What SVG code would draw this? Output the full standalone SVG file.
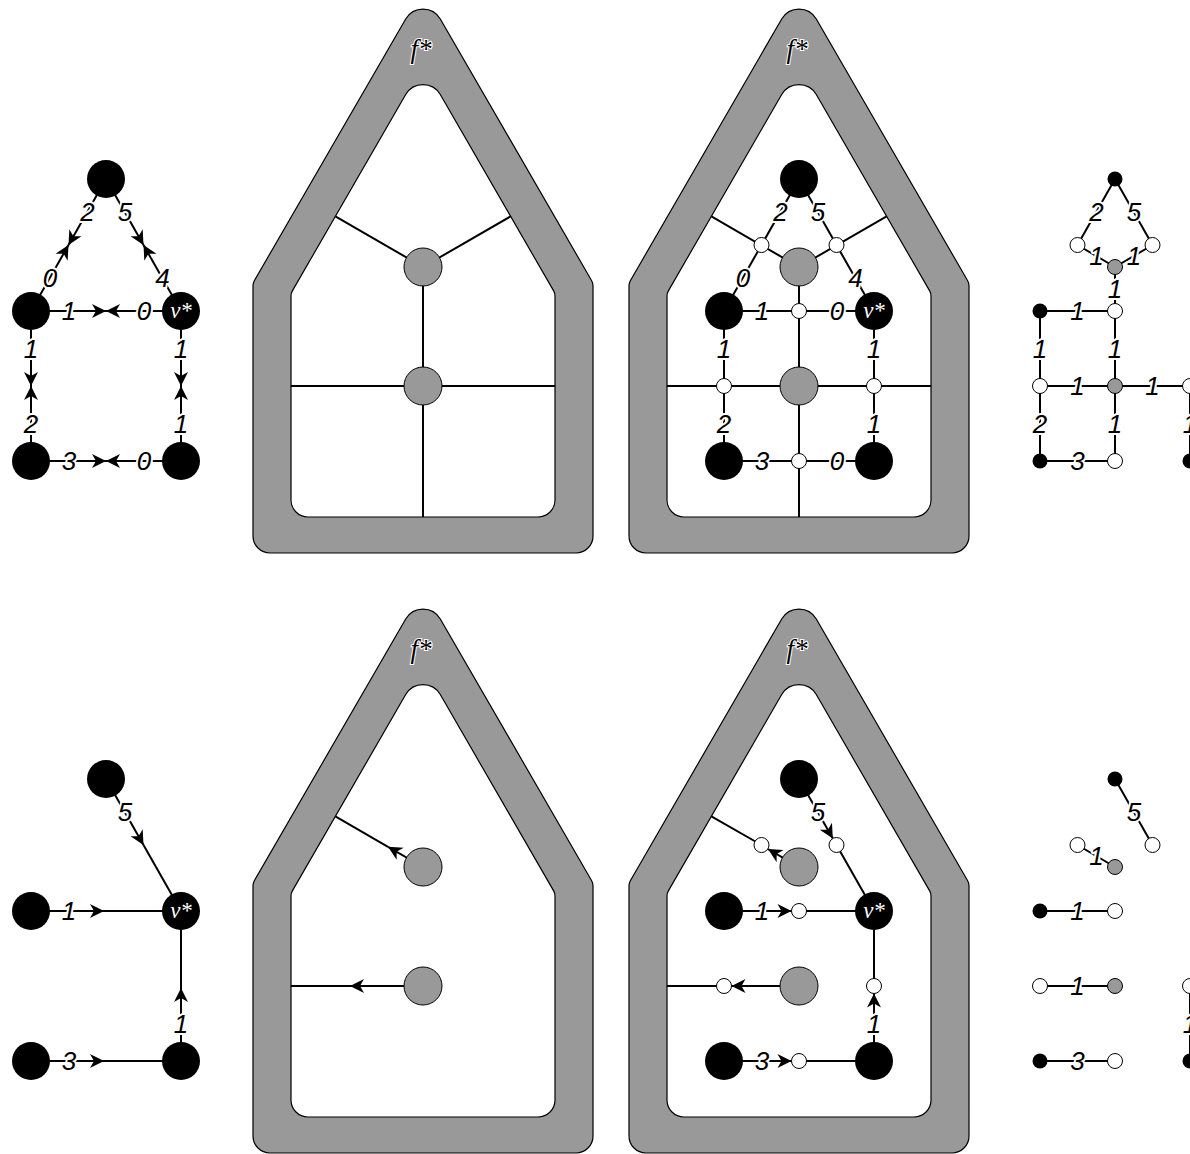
<svg xmlns="http://www.w3.org/2000/svg" xmlns:xlink="http://www.w3.org/1999/xlink" width="1190" height="1154" viewBox="0 0 1190 1154">
<style>
.house{fill:#999;stroke:#000;stroke-width:1.2;fill-rule:evenodd}
.e{stroke:#000;stroke-width:2;fill:none}
.a{marker-end:url(#arr)}
.bk{fill:#000}
.wh{fill:#fff;stroke:#000;stroke-width:1}
.gr{fill:#999;stroke:#000;stroke-width:1}
.lb{font-family:"Liberation Sans",Arial,sans-serif;font-style:italic;font-size:26px;text-anchor:middle;fill:#000;stroke:#fff;stroke-width:4;paint-order:stroke;stroke-linejoin:round}
.vs{font-family:"Liberation Serif",serif;font-style:italic;font-size:23px;fill:#fff;text-anchor:middle}
.fs{font-family:"Liberation Serif",serif;font-style:italic;font-size:27px;fill:#000;stroke:#fff;stroke-width:2;paint-order:stroke;text-anchor:middle}
</style>
<defs>
<marker id="arr" markerUnits="userSpaceOnUse" viewBox="-16 -8 18 16" markerWidth="18" markerHeight="16" refX="0" refY="0" orient="auto">
<path d="M0,0 L-14,-7 L-10,0 L-14,7 Z" fill="#000"/>
</marker>
<path id="hs" d="M253,536 L253,285.7 A10,10 0 0 1 254.34,280.68 L405.7,19 A20,20 0 0 1 440.3,19 L591.66,280.68 A10,10 0 0 1 593,285.7 L593,536 A17,17 0 0 1 576,553 L270,553 A17,17 0 0 1 253,536 Z M291,500 L291,295.9 A10,10 0 0 1 292.34,290.9 L405.7,94.5 A20,20 0 0 1 440.3,94.5 L553.66,290.9 A10,10 0 0 1 555,295.9 L555,500 A17,17 0 0 1 538,517 L308,517 A17,17 0 0 1 291,500 Z"/>
</defs>
<rect width="1190" height="1154" fill="#fff"/>

<g id="houses">
<g id="house-top-1"><use xlink:href="#hs" href="#hs" class="house"/><text class="fs" x="421" y="58">f*</text></g>
<g id="house-top-2"><use xlink:href="#hs" href="#hs" class="house" transform="translate(376,0)"/><text class="fs" x="797" y="58">f*</text></g>
<g id="house-bot-1"><use xlink:href="#hs" href="#hs" class="house" transform="translate(0,600)"/><text class="fs" x="421" y="658">f*</text></g>
<g id="house-bot-2"><use xlink:href="#hs" href="#hs" class="house" transform="translate(376,600)"/><text class="fs" x="797" y="658">f*</text></g>
</g>

<g id="connectors">
<line class="e a" x1="106" y1="179" x2="68.5" y2="245"/>
<line class="e a" x1="31" y1="311" x2="68.5" y2="245"/>
<line class="e a" x1="106" y1="179" x2="143.5" y2="245"/>
<line class="e a" x1="181" y1="311" x2="143.5" y2="245"/>
<line class="e a" x1="31" y1="311" x2="106" y2="311"/>
<line class="e a" x1="181" y1="311" x2="106" y2="311"/>
<line class="e a" x1="31" y1="311" x2="31" y2="386"/>
<line class="e a" x1="31" y1="461" x2="31" y2="386"/>
<line class="e a" x1="181" y1="311" x2="181" y2="386"/>
<line class="e a" x1="181" y1="461" x2="181" y2="386"/>
<line class="e a" x1="31" y1="461" x2="106" y2="461"/>
<line class="e a" x1="181" y1="461" x2="106" y2="461"/>
<line class="e" x1="423" y1="267" x2="335.4" y2="216.4"/>
<line class="e" x1="423" y1="267" x2="510.6" y2="216.4"/>
<line class="e" x1="423" y1="267" x2="423" y2="386"/>
<line class="e" x1="291" y1="386" x2="555" y2="386"/>
<line class="e" x1="423" y1="386" x2="423" y2="517"/>
<line class="e" x1="799" y1="267" x2="711.4" y2="216.4"/>
<line class="e" x1="799" y1="267" x2="886.6" y2="216.4"/>
<line class="e" x1="799" y1="267" x2="799" y2="386"/>
<line class="e" x1="667" y1="386" x2="931" y2="386"/>
<line class="e" x1="799" y1="386" x2="799" y2="517"/>
<line class="e" x1="799" y1="179" x2="724" y2="311"/>
<line class="e" x1="799" y1="179" x2="874" y2="311"/>
<line class="e" x1="724" y1="311" x2="874" y2="311"/>
<line class="e" x1="724" y1="311" x2="724" y2="461"/>
<line class="e" x1="874" y1="311" x2="874" y2="461"/>
<line class="e" x1="724" y1="461" x2="874" y2="461"/>
<line class="e" x1="1115" y1="179" x2="1077.5" y2="245"/>
<line class="e" x1="1115" y1="179" x2="1152.5" y2="245"/>
<line class="e" x1="1077.5" y1="245" x2="1115" y2="267"/>
<line class="e" x1="1152.5" y1="245" x2="1115" y2="267"/>
<line class="e" x1="1115" y1="267" x2="1115" y2="461"/>
<line class="e" x1="1040" y1="311" x2="1115" y2="311"/>
<line class="e" x1="1040" y1="311" x2="1040" y2="461"/>
<line class="e" x1="1040" y1="386" x2="1190" y2="386"/>
<line class="e" x1="1040" y1="461" x2="1115" y2="461"/>
<line class="e" x1="1190" y1="386" x2="1190" y2="461"/>
<line class="e a" x1="106" y1="779" x2="143.5" y2="845"/>
<line class="e" x1="143.5" y1="845" x2="181" y2="911"/>
<line class="e a" x1="31" y1="911" x2="104" y2="911"/>
<line class="e" x1="104" y1="911" x2="181" y2="911"/>
<line class="e a" x1="31" y1="1061" x2="104" y2="1061"/>
<line class="e" x1="104" y1="1061" x2="181" y2="1061"/>
<line class="e a" x1="181" y1="1061" x2="181" y2="988"/>
<line class="e" x1="181" y1="988" x2="181" y2="911"/>
<line class="e a" x1="423" y1="867" x2="388" y2="846.8"/>
<line class="e" x1="388" y1="846.8" x2="335.4" y2="816.4"/>
<line class="e a" x1="423" y1="986" x2="350" y2="986"/>
<line class="e" x1="350" y1="986" x2="291" y2="986"/>
<line class="e a" x1="799" y1="867" x2="768" y2="849.1"/>
<line class="e" x1="761.5" y1="845" x2="711.4" y2="816.4"/>
<line class="e a" x1="799" y1="986" x2="731.5" y2="986"/>
<line class="e" x1="724" y1="986" x2="667" y2="986"/>
<line class="e a" x1="799" y1="779" x2="832.8" y2="838.5"/>
<line class="e" x1="836.5" y1="845" x2="874" y2="911"/>
<line class="e a" x1="724" y1="911" x2="791.5" y2="911"/>
<line class="e" x1="799" y1="911" x2="874" y2="911"/>
<line class="e a" x1="724" y1="1061" x2="791.5" y2="1061"/>
<line class="e" x1="799" y1="1061" x2="874" y2="1061"/>
<line class="e a" x1="874" y1="1061" x2="874" y2="993.5"/>
<line class="e" x1="874" y1="986" x2="874" y2="911"/>
<line class="e" x1="1115" y1="779" x2="1152.5" y2="845"/>
<line class="e" x1="1077.5" y1="845" x2="1115" y2="867"/>
<line class="e" x1="1040" y1="911" x2="1115" y2="911"/>
<line class="e" x1="1040" y1="986" x2="1115" y2="986"/>
<line class="e" x1="1040" y1="1061" x2="1115" y2="1061"/>
<line class="e" x1="1190" y1="986" x2="1190" y2="1061"/>
</g>

<g id="labels">
<text class="lb" x="87.5" y="221">2</text>
<text class="lb" x="50" y="287">0</text>
<text class="lb" x="125" y="221">5</text>
<text class="lb" x="162.5" y="287">4</text>
<text class="lb" x="69" y="320">1</text>
<text class="lb" x="144" y="320">0</text>
<text class="lb" x="31" y="357.5">1</text>
<text class="lb" x="31" y="432.5">2</text>
<text class="lb" x="181" y="357.5">1</text>
<text class="lb" x="181" y="432.5">1</text>
<text class="lb" x="69" y="470">3</text>
<text class="lb" x="144" y="470">0</text>
<text class="lb" x="780.5" y="221">2</text>
<text class="lb" x="743" y="287">0</text>
<text class="lb" x="818" y="221">5</text>
<text class="lb" x="855.5" y="287">4</text>
<text class="lb" x="762" y="320">1</text>
<text class="lb" x="837" y="320">0</text>
<text class="lb" x="724" y="357.5">1</text>
<text class="lb" x="724" y="432.5">2</text>
<text class="lb" x="874" y="357.5">1</text>
<text class="lb" x="874" y="432.5">1</text>
<text class="lb" x="762" y="470">3</text>
<text class="lb" x="837" y="470">0</text>
<text class="lb" x="1096.5" y="221">2</text>
<text class="lb" x="1134" y="221">5</text>
<text class="lb" x="1096.5" y="265">1</text>
<text class="lb" x="1134" y="265">1</text>
<text class="lb" x="1115" y="298">1</text>
<text class="lb" x="1077.5" y="320">1</text>
<text class="lb" x="1040" y="357.5">1</text>
<text class="lb" x="1115" y="357.5">1</text>
<text class="lb" x="1077.5" y="395">1</text>
<text class="lb" x="1152.5" y="395">1</text>
<text class="lb" x="1040" y="432.5">2</text>
<text class="lb" x="1115" y="432.5">1</text>
<text class="lb" x="1077.5" y="470">3</text>
<text class="lb" x="1190" y="432.5">1</text>
<text class="lb" x="125" y="821">5</text>
<text class="lb" x="69" y="920">1</text>
<text class="lb" x="69" y="1070">3</text>
<text class="lb" x="181" y="1032.5">1</text>
<text class="lb" x="818" y="821">5</text>
<text class="lb" x="762" y="920">1</text>
<text class="lb" x="762" y="1070">3</text>
<text class="lb" x="874" y="1032.5">1</text>
<text class="lb" x="1134" y="821">5</text>
<text class="lb" x="1096.5" y="865">1</text>
<text class="lb" x="1077.5" y="920">1</text>
<text class="lb" x="1077.5" y="995">1</text>
<text class="lb" x="1077.5" y="1070">3</text>
<text class="lb" x="1190" y="1032.5">1</text>
</g>

<g id="nodes">
<g id="g1t-T"><circle class="bk" cx="106" cy="179" r="19"/></g>
<g id="g1t-L"><circle class="bk" cx="31" cy="311" r="19"/></g>
<g id="g1t-V"><circle class="bk" cx="181" cy="311" r="19"/><text class="vs" x="181" y="318">v*</text></g>
<g id="g1t-BL"><circle class="bk" cx="31" cy="461" r="19"/></g>
<g id="g1t-BR"><circle class="bk" cx="181" cy="461" r="19"/></g>
<g id="h1t-G1"><circle class="gr" cx="423" cy="267" r="19"/></g>
<g id="h1t-G2"><circle class="gr" cx="423" cy="386" r="19"/></g>
<g id="h2t-T"><circle class="bk" cx="799" cy="179" r="19"/></g>
<g id="h2t-L"><circle class="bk" cx="724" cy="311" r="19"/></g>
<g id="h2t-V"><circle class="bk" cx="874" cy="311" r="19"/><text class="vs" x="874" y="318">v*</text></g>
<g id="h2t-BL"><circle class="bk" cx="724" cy="461" r="19"/></g>
<g id="h2t-BR"><circle class="bk" cx="874" cy="461" r="19"/></g>
<g id="h2t-G1"><circle class="gr" cx="799" cy="267" r="19"/></g>
<g id="h2t-G2"><circle class="gr" cx="799" cy="386" r="19"/></g>
<g id="h2t-W1"><circle class="wh" cx="761.5" cy="245" r="7.5"/></g>
<g id="h2t-W2"><circle class="wh" cx="836.5" cy="245" r="7.5"/></g>
<g id="h2t-W3"><circle class="wh" cx="799" cy="311" r="7.5"/></g>
<g id="h2t-W4"><circle class="wh" cx="724" cy="386" r="7.5"/></g>
<g id="h2t-W5"><circle class="wh" cx="874" cy="386" r="7.5"/></g>
<g id="h2t-W6"><circle class="wh" cx="799" cy="461" r="7.5"/></g>
<g id="r-t-T"><circle class="bk" cx="1115" cy="179" r="7.5"/></g>
<g id="r-t-W1"><circle class="wh" cx="1077.5" cy="245" r="7.5"/></g>
<g id="r-t-W2"><circle class="wh" cx="1152.5" cy="245" r="7.5"/></g>
<g id="r-t-G1"><circle class="gr" cx="1115" cy="267" r="7.5"/></g>
<g id="r-t-W3"><circle class="wh" cx="1115" cy="311" r="7.5"/></g>
<g id="r-t-B1"><circle class="bk" cx="1040" cy="311" r="7.5"/></g>
<g id="r-t-W4"><circle class="wh" cx="1040" cy="386" r="7.5"/></g>
<g id="r-t-G2"><circle class="gr" cx="1115" cy="386" r="7.5"/></g>
<g id="r-t-W5"><circle class="wh" cx="1190" cy="386" r="7.5"/></g>
<g id="r-t-B2"><circle class="bk" cx="1040" cy="461" r="7.5"/></g>
<g id="r-t-W6"><circle class="wh" cx="1115" cy="461" r="7.5"/></g>
<g id="r-t-B3"><circle class="bk" cx="1190" cy="461" r="7.5"/></g>
<g id="g1b-T"><circle class="bk" cx="106" cy="779" r="19"/></g>
<g id="g1b-L"><circle class="bk" cx="31" cy="911" r="19"/></g>
<g id="g1b-V"><circle class="bk" cx="181" cy="911" r="19"/><text class="vs" x="181" y="918">v*</text></g>
<g id="g1b-BL"><circle class="bk" cx="31" cy="1061" r="19"/></g>
<g id="g1b-BR"><circle class="bk" cx="181" cy="1061" r="19"/></g>
<g id="h1b-G1"><circle class="gr" cx="423" cy="867" r="19"/></g>
<g id="h1b-G2"><circle class="gr" cx="423" cy="986" r="19"/></g>
<g id="h2b-T"><circle class="bk" cx="799" cy="779" r="19"/></g>
<g id="h2b-L"><circle class="bk" cx="724" cy="911" r="19"/></g>
<g id="h2b-V"><circle class="bk" cx="874" cy="911" r="19"/><text class="vs" x="874" y="918">v*</text></g>
<g id="h2b-BL"><circle class="bk" cx="724" cy="1061" r="19"/></g>
<g id="h2b-BR"><circle class="bk" cx="874" cy="1061" r="19"/></g>
<g id="h2b-G1"><circle class="gr" cx="799" cy="867" r="19"/></g>
<g id="h2b-G2"><circle class="gr" cx="799" cy="986" r="19"/></g>
<g id="h2b-W1"><circle class="wh" cx="761.5" cy="845" r="7.5"/></g>
<g id="h2b-W2"><circle class="wh" cx="836.5" cy="845" r="7.5"/></g>
<g id="h2b-W3"><circle class="wh" cx="799" cy="911" r="7.5"/></g>
<g id="h2b-W4"><circle class="wh" cx="724" cy="986" r="7.5"/></g>
<g id="h2b-W5"><circle class="wh" cx="874" cy="986" r="7.5"/></g>
<g id="h2b-W6"><circle class="wh" cx="799" cy="1061" r="7.5"/></g>
<g id="r-b-T"><circle class="bk" cx="1115" cy="779" r="7.5"/></g>
<g id="r-b-W2"><circle class="wh" cx="1152.5" cy="845" r="7.5"/></g>
<g id="r-b-W1"><circle class="wh" cx="1077.5" cy="845" r="7.5"/></g>
<g id="r-b-G1"><circle class="gr" cx="1115" cy="867" r="7.5"/></g>
<g id="r-b-B1"><circle class="bk" cx="1040" cy="911" r="7.5"/></g>
<g id="r-b-W3"><circle class="wh" cx="1115" cy="911" r="7.5"/></g>
<g id="r-b-W4"><circle class="wh" cx="1040" cy="986" r="7.5"/></g>
<g id="r-b-G2"><circle class="gr" cx="1115" cy="986" r="7.5"/></g>
<g id="r-b-W5"><circle class="wh" cx="1190" cy="986" r="7.5"/></g>
<g id="r-b-B2"><circle class="bk" cx="1040" cy="1061" r="7.5"/></g>
<g id="r-b-W6"><circle class="wh" cx="1115" cy="1061" r="7.5"/></g>
<g id="r-b-B3"><circle class="bk" cx="1190" cy="1061" r="7.5"/></g>
</g>
</svg>
